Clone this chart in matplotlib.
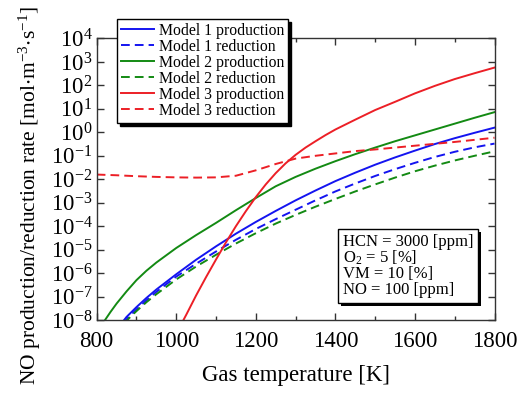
import numpy as np
import matplotlib
matplotlib.use("Agg")
import matplotlib.pyplot as plt
from matplotlib.ticker import MultipleLocator, NullLocator, FixedLocator
import matplotlib.patheffects as pe

plt.rcParams['font.family'] = ['Liberation Serif', 'DejaVu Serif']
plt.rcParams['mathtext.fontset'] = 'stix'
plt.rcParams['mathtext.default'] = 'regular'

# ---- data (log10 of rate) ----
m1_prod_T = [862, 875, 900, 925, 950, 1000, 1050, 1100, 1150, 1200, 1250, 1300,
             1350, 1400, 1450, 1500, 1550, 1600, 1650, 1700, 1750, 1800]
m1_prod_log = [-8.15, -7.87, -7.45, -7.06, -6.7, -6.05, -5.43, -4.86, -4.32,
               -3.82, -3.35, -2.9, -2.48, -2.08, -1.72, -1.38, -1.07, -0.78,
               -0.5, -0.25, -0.02, 0.2]

m1_red_T = [866, 880, 900, 925, 950, 1000, 1050, 1100, 1150, 1200, 1250, 1300,
            1350, 1400, 1450, 1500, 1550, 1600, 1650, 1700, 1750, 1800]
m1_red_log = [-8.15, -7.88, -7.55, -7.16, -6.8, -6.15, -5.6, -5.08, -4.58,
              -4.12, -3.7, -3.3, -2.9, -2.52, -2.18, -1.86, -1.57, -1.3,
              -1.05, -0.83, -0.64, -0.48]

m2_prod_T = [815, 835, 850, 875, 900, 925, 950, 1000, 1050, 1100, 1150, 1200,
             1250, 1300, 1350, 1400, 1450, 1500, 1550, 1600, 1650, 1700,
             1750, 1800]
m2_prod_log = [-8.15, -7.65, -7.3, -6.78, -6.3, -5.9, -5.55, -4.93, -4.38,
               -3.86, -3.32, -2.8, -2.3, -1.9, -1.55, -1.23, -0.93, -0.65,
               -0.38, -0.13, 0.12, 0.37, 0.62, 0.86]

m2_red_T = [869, 885, 900, 925, 950, 1000, 1050, 1100, 1150, 1200, 1250, 1300,
            1350, 1400, 1450, 1500, 1550, 1600, 1650, 1700, 1750, 1800]
m2_red_log = [-8.15, -7.86, -7.62, -7.24, -6.9, -6.27, -5.72, -5.22, -4.74,
              -4.3, -3.89, -3.52, -3.17, -2.84, -2.52, -2.22, -1.93, -1.66,
              -1.42, -1.2, -1.0, -0.81]

m3_prod_T = [1015, 1025, 1050, 1075, 1100, 1125, 1150, 1175, 1200, 1225, 1250,
             1275, 1300, 1325, 1350, 1375, 1400, 1450, 1500, 1550, 1600,
             1650, 1700, 1750, 1800]
m3_prod_log = [-8.1, -7.78, -6.95, -6.17, -5.42, -4.69, -4.0, -3.36, -2.76,
               -2.22, -1.74, -1.32, -0.96, -0.65, -0.38, -0.12, 0.12, 0.54,
               0.95, 1.3, 1.66, 1.98, 2.27, 2.52, 2.76]

m3_red_T = [800, 850, 900, 950, 1000, 1050, 1100, 1150, 1200, 1250, 1300,
            1350, 1400, 1450, 1500, 1550, 1600, 1650, 1700, 1750, 1800]
m3_red_log = [-1.80, -1.83, -1.87, -1.9, -1.92, -1.93, -1.92, -1.85, -1.62,
              -1.35, -1.12, -1.0, -0.9, -0.8, -0.73, -0.65, -0.57, -0.49,
              -0.41, -0.32, -0.23]

labels = ["Model 1 production", "Model 1 reduction",
          "Model 2 production", "Model 2 reduction",
          "Model 3 production", "Model 3 reduction"]

info_text = "HCN = 3000 [ppm]\nO$_2$ = 5 [%]\nVM = 10 [%]\nNO = 100 [ppm]"

y_exponents = list(range(-8, 5))

# ---- figure ----
fig = plt.figure(figsize=(5.19, 3.96), dpi=100)
ax = fig.add_axes([0.1863, 0.1919, 0.7665, 0.7109])

blue = '#1414f0'
green = '#138a13'
red = '#ec1f26'
lw = 1.4
dash = (4.5, 2.6)

series = [
    (m1_prod_T, m1_prod_log, blue, '-'),
    (m1_red_T, m1_red_log, blue, '--'),
    (m2_prod_T, m2_prod_log, green, '-'),
    (m2_red_T, m2_red_log, green, '--'),
    (m3_prod_T, m3_prod_log, red, '-'),
    (m3_red_T, m3_red_log, red, '--'),
]
handles = []
for (T, lg, c, ls), lab in zip(series, labels):
    kw = dict(color=c, lw=lw, label=lab, solid_joinstyle='round')
    if ls == '--':
        kw['dashes'] = dash
    h, = ax.plot(T, 10.0 ** np.array(lg), **kw)
    handles.append(h)

ax.set_yscale('log')
ax.set_xlim(800, 1800)
ax.set_ylim(1e-8, 1e4)
ax.xaxis.set_major_locator(MultipleLocator(200))
ax.xaxis.set_minor_locator(MultipleLocator(100))
ax.yaxis.set_major_locator(FixedLocator([10.0 ** k for k in y_exponents]))
ax.yaxis.set_minor_locator(NullLocator())
ax.set_yticklabels([r'$10^{%d}$' % k for k in y_exponents])

for sp in ax.spines.values():
    sp.set_color('#333333')
    sp.set_linewidth(1.0)

ax.tick_params(which='both', direction='in', top=True, right=True,
               color='#333333', width=1.0)
ax.tick_params(which='major', length=5)
ax.tick_params(which='minor', length=3)
ax.tick_params(axis='x', labelsize=16.5, pad=8)
ax.tick_params(axis='y', labelsize=16.5, pad=3)

ax.set_xlabel("Gas temperature [K]", fontsize=16.5, labelpad=9)
fig.text(0.058, 0.507,
         r"NO production/reduction rate [mol$\cdot$m$^{-3}$$\cdot$s$^{-1}$]",
         rotation=90, ha='center', va='center', fontsize=15.5)

leg = ax.legend(handles=handles, loc='upper left',
                bbox_to_anchor=(0.2254, 0.952), bbox_transform=fig.transFigure,
                borderaxespad=0, fontsize=11.3, frameon=True, fancybox=False,
                framealpha=1, edgecolor='black', handlelength=2.1,
                handletextpad=0.3, labelspacing=0.0, borderpad=0.25,
                shadow={'color': 'black', 'alpha': 1, 'ox': 2.2, 'oy': -2.2})
leg.get_frame().set_linewidth(1.0)

t = ax.text(0.618, 0.305, info_text, transform=ax.transAxes, ha='left',
            va='top', fontsize=12, linespacing=0.92,
            bbox=dict(boxstyle='square,pad=0.3', fc='white', ec='black', lw=1.0))
t.get_bbox_patch().set_path_effects([
    pe.SimplePatchShadow(offset=(2.2, -2.2), shadow_rgbFace='black', alpha=1),
    pe.Normal()])

fig.savefig('out.png', dpi=100)
